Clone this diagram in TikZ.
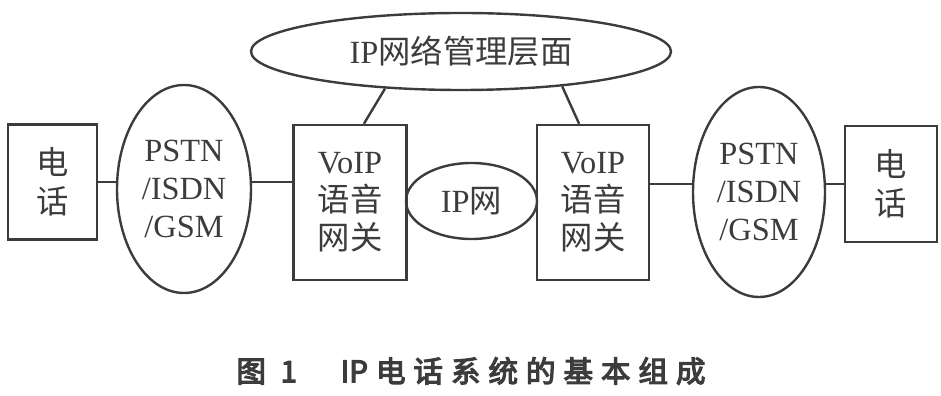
\documentclass[tikz,border=0pt]{standalone}
\usepackage{fontspec}
\setmainfont{Liberation Serif}
\newfontfamily\cjkfont{Noto Sans CJK SC}
\newfontfamily\capfont[LetterSpace=27, FakeBold=4]{Noto Sans CJK SC}
\newfontfamily\capplain[FakeBold=4]{Noto Sans CJK SC}
\usetikzlibrary{shapes.geometric}
\definecolor{inkGray}{HTML}{3C3C3C}

\begin{document}
\begin{tikzpicture}[x=0.25mm, y=-0.25mm,
    every node/.style={text=inkGray, font=\fontsize{23}{27}\selectfont,
                       align=center, inner sep=0pt},
    cjk/.style={font=\cjkfont\fontsize{23}{28}\selectfont},
    box/.style={draw=inkGray, line width=0.6mm},
    oval/.style={draw=inkGray, line width=0.6mm, ellipse},
    link/.style={draw=inkGray, line width=0.6mm}]
  \useasboundingbox (0,0) rectangle (941,396);
  % management plane on top
  \node[oval, minimum width=105mm, minimum height=19.25mm] (mgmt) at (461,51.5)
        {IP{\cjkfont 网络管理层面}};
  % left side
  \node[box, cjk, minimum width=22.25mm, minimum height=28.75mm] (phoneL) at (52.5,182)
        {电\\话};
  \node[oval, minimum width=33.5mm, minimum height=52mm] (pstnL) at (184,189)
        {PSTN\\/ISDN\\/GSM};
  \node[box, minimum width=28.25mm, minimum height=38.75mm] (voipL) at (350,202.5)
        {VoIP\\{\cjkfont 语音}\\{\cjkfont 网关}};
  % IP network in the middle
  \node[oval, minimum width=32.75mm, minimum height=19mm] (ipnet) at (471.5,201)
        {IP{\cjkfont 网}};
  % right side
  \node[box, minimum width=28mm, minimum height=38.75mm] (voipR) at (593,202.5)
        {VoIP\\{\cjkfont 语音}\\{\cjkfont 网关}};
  \node[oval, minimum width=33mm, minimum height=52.5mm] (pstnR) at (759,192)
        {PSTN\\/ISDN\\/GSM};
  \node[box, cjk, minimum width=23mm, minimum height=29mm] (phoneR) at (891,184)
        {电\\话};
  % caption
  \node[font=\capfont\fontsize{21}{25}\selectfont] (cap) at (471,371)
        {图~1~~~{\capplain IP}\hspace{2mm}电话系统的基本组成};

  \draw[link] (phoneL.east) -- (phoneL.east -| pstnL.west);
  \draw[link] (pstnL.east |- phoneL.east) -- (voipL.west |- phoneL.east);
  \draw[link] (voipR.east |- phoneR.west) -- (pstnR.west |- phoneR.west);
  \draw[link] (pstnR.east |- phoneR.west) -- (phoneR.west);
  \draw[link] (mgmt.206) -- (voipL.80);
  \draw[link] (mgmt.341) -- (voipR.100);
\end{tikzpicture}
\end{document}
